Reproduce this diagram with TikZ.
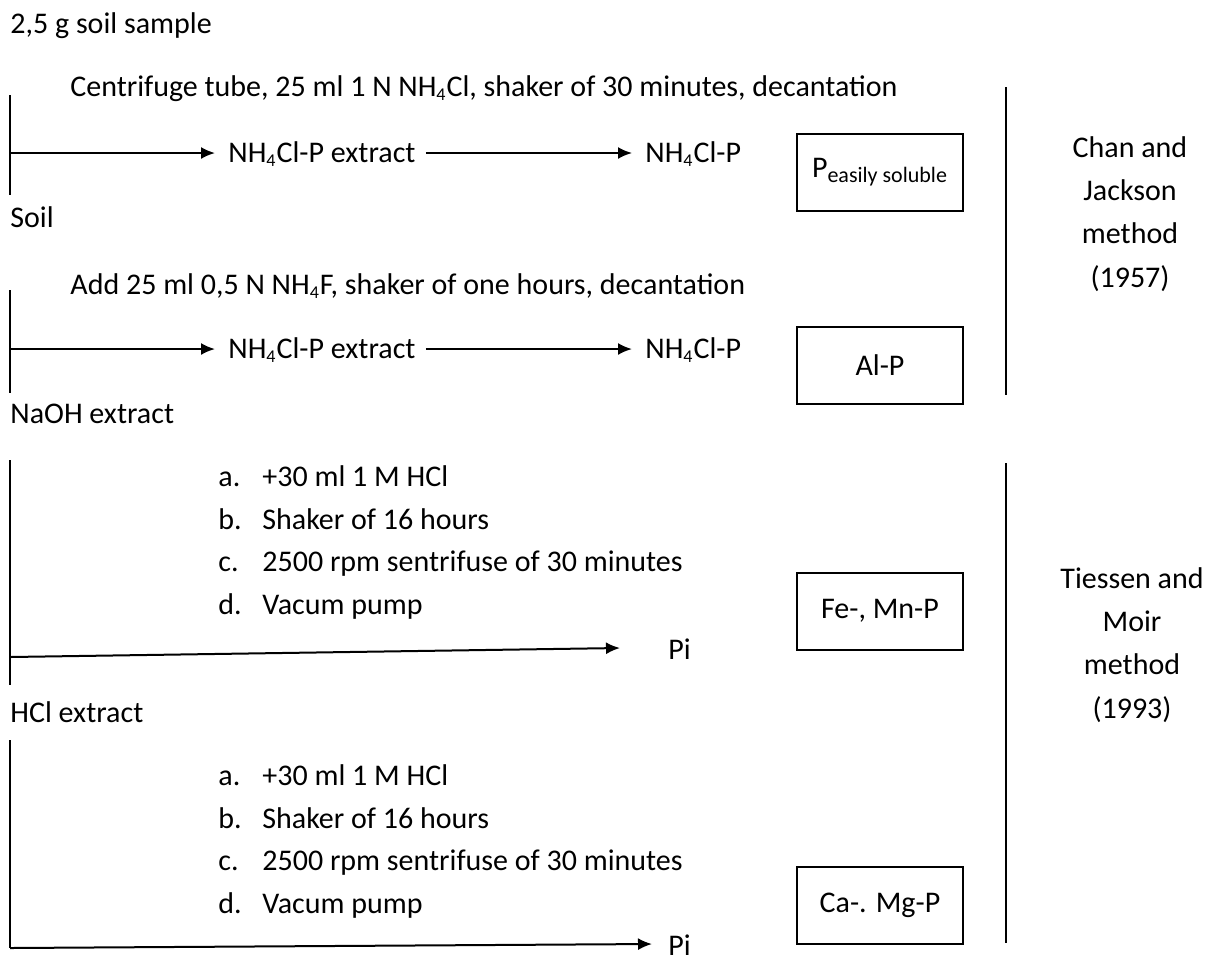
\documentclass[tikz,border=0pt]{standalone}
\usepackage{fontspec}
\setmainfont{Carlito}
\usetikzlibrary{arrows.meta}
\tikzset{
  txt/.style={anchor=west,inner sep=0pt,text height=0.93em,text depth=0pt,font=\fontsize{15}{18}\selectfont},
  ptxt/.style={anchor=west,inner ysep=0pt,inner xsep=6.5pt,text height=0.93em,text depth=0pt,font=\fontsize{15}{18}\selectfont},
  method/.style={align=center,inner sep=0pt,font=\fontsize{15}{21.6}\selectfont},
  result/.style={draw,line width=1pt,minimum width=83pt,minimum height=38.5pt,inner sep=0pt,font=\fontsize{15}{18}\selectfont},
  bar/.style={line width=1pt},
  flow/.style={line width=1pt,-{Latex[length=7pt,width=6pt]}},
}
\newcommand{\nhcl}{NH\textsubscript{\fontsize{9}{10}\selectfont 4}Cl}
\begin{document}
\begin{tikzpicture}[x=0.5pt,y=-0.5pt]
\useasboundingbox (0,0) rectangle (1213,960);
% labels on the left
\node[txt] (sample) at (10,24) {2,5 g soil sample};
\node[txt] (soil) at (10,218) {Soil};
\node[txt] (naoh) at (10,414) {NaOH extract};
\node[txt] (hcl) at (10,713) {HCl extract};
% block 1
\coordinate (v1t) at (10,95); \coordinate (v1b) at (10,195);
\draw[bar] (v1t) -- (v1b);
\node[txt] (step1) at (70,87) {Centrifuge tube, 25 ml 1 N \nhcl, shaker of 30 minutes, decantation};
\coordinate (a1) at (10,153);
\node[ptxt] (ext1) at (215,153) {\nhcl-P extract};
\node[ptxt] (nh1) at (632,153) {\nhcl-P};
\draw[flow] (a1) -- (ext1.west);
\draw[flow] ([xshift=-1.5pt]ext1.east) -- (nh1.west);
\node[result] (box1) at (880,172) {\raisebox{-1pt}{P\textsubscript{\fontsize{11}{12}\selectfont easily soluble}}};
% block 2
\coordinate (v2t) at (10,290); \coordinate (v2b) at (10,393);
\draw[bar] (v2t) -- (v2b);
\node[txt] (step2) at (70,285) {Add 25 ml 0,5 N NH\textsubscript{\fontsize{9}{10}\selectfont 4}F, shaker of one hours, decantation};
\coordinate (a2) at (10,349);
\node[ptxt] (ext2) at (215,349) {\nhcl-P extract};
\node[ptxt] (nh2) at (632,349) {\nhcl-P};
\draw[flow] (a2) -- (ext2.west);
\draw[flow] ([xshift=-1.5pt]ext2.east) -- (nh2.west);
\node[result] (box2) at (880,365) {Al-P};
% block 3
\coordinate (v3t) at (10,460); \coordinate (v3b) at (10,685);
\draw[bar] (v3t) -- (v3b);
\foreach \l/\t/\y in {a/{+30 ml 1 M HCl}/477, b/{Shaker of 16 hours}/520, c/{2500 rpm sentrifuse of 30 minutes}/562, d/{Vacum pump}/605}{
  \node[txt] (l3\l) at (218,\y) {\l.};
  \node[txt] (t3\l) at (262,\y) {\t};
}
\coordinate (a3) at (10,657);
\node[txt] (pi1) at (668,650) {Pi};
\draw[flow] (a3) -- ([xshift=-24pt,yshift=1pt]pi1.west);
\node[result] (box3) at (880,611) {Fe-, Mn-P};
% block 4
\coordinate (v4t) at (10,740); \coordinate (v4b) at (10,948);
\draw[bar] (v4t) -- (v4b);
\foreach \l/\t/\y in {a/{+30 ml 1 M HCl}/776, b/{Shaker of 16 hours}/819, c/{2500 rpm sentrifuse of 30 minutes}/861, d/{Vacum pump}/904}{
  \node[txt] (l4\l) at (218,\y) {\l.};
  \node[txt] (t4\l) at (262,\y) {\t};
}
\coordinate (a4) at (10,948);
\node[txt] (pi2) at (668,946) {Pi};
\draw[flow] (a4) -- ([xshift=-8pt,yshift=1pt]pi2.west);
\node[result] (box4) at (880,905) {Ca-. Mg-P};
% method brackets
\coordinate (m1t) at (1006,87); \coordinate (m1b) at (1006,395);
\draw[bar] (m1t) -- (m1b);
\node[method] (chan) at (1130,214) {Chan and\\Jackson\\method\\(1957)};
\coordinate (m2t) at (1006,463); \coordinate (m2b) at (1006,943);
\draw[bar] (m2t) -- (m2b);
\node[method] (tiessen) at (1132,645) {Tiessen and\\Moir\\method\\(1993)};
\end{tikzpicture}
\end{document}
